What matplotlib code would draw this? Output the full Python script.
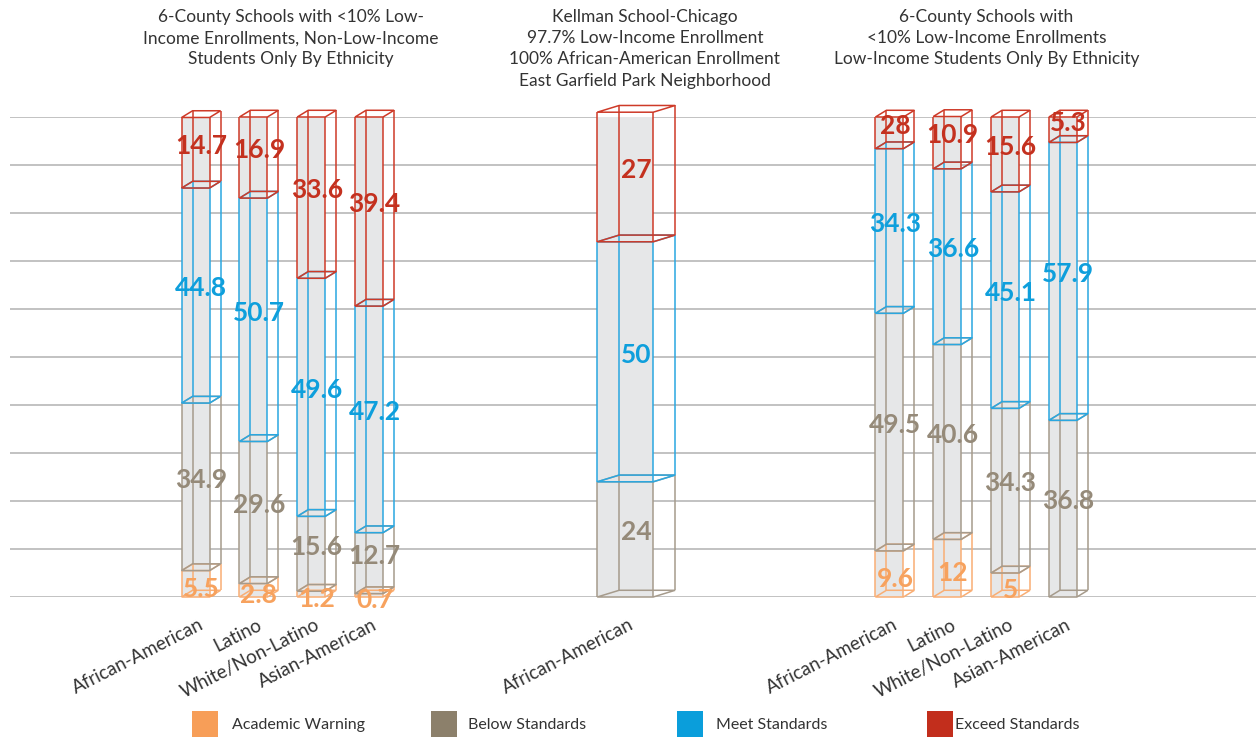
import matplotlib
matplotlib.use("Agg")
import matplotlib.pyplot as plt
from matplotlib.patches import Rectangle, Polygon

plt.rcParams['font.family'] = ['Lato', 'DejaVu Sans']

# categories and segment values (bottom to top)
levels = ['Academic Warning', 'Below Standards', 'Meet Standards', 'Exceed Standards']
ethnic = ['African-American', 'Latino', 'White/Non-Latino', 'Asian-American']

non_low_income = {
    'African-American': [5.5, 34.9, 44.8, 14.7],
    'Latino': [2.8, 29.6, 50.7, 16.9],
    'White/Non-Latino': [1.2, 15.6, 49.6, 33.6],
    'Asian-American': [0.7, 12.7, 47.2, 39.4],
}
kellman = [0, 24, 50, 27]
low_income = {
    'African-American': [9.6, 49.5, 34.3, 6.6],
    'Latino': [12, 40.6, 36.6, 10.9],
    'White/Non-Latino': [5, 34.3, 45.1, 15.6],
    'Asian-American': [0, 36.8, 57.9, 5.3],
}
# printed labels (the top African-American low-income label reads "28")
low_income_labels = {
    'African-American': ['9.6', '49.5', '34.3', '28'],
}

titles = [
    "6-County Schools with <10% Low-\nIncome Enrollments, Non-Low-Income\nStudents Only By Ethnicity",
    "Kellman School-Chicago\n97.7% Low-Income Enrollment\n100% African-American Enrollment\nEast Garfield Park Neighborhood",
    "6-County Schools with\n<10% Low-Income Enrollments\nLow-Income Students Only By Ethnicity",
]

text_colors = ['#F7A25E', '#958A79', '#0E9FDC', '#C4311F']
edge_colors = ['#F9AE74', '#A69B8C', '#2AA7E0', '#CE3A28']
legend_colors = ['#F79E58', '#8C806B', '#0A9EDB', '#C22E1C']
label_shift = [-1.0, 1.5, 1.5, 1.5]
face = '#E6E7E8'

W, H = 1256, 737
fig = plt.figure(figsize=(W / 100, H / 100), dpi=100)
ax = fig.add_axes([10 / W, 140 / H, 1246 / W, 480 / H])
ax.set_xlim(-3.21, 18.34)
ax.set_ylim(0, 100)
ax.axis('off')

for g in range(0, 101, 10):
    ax.axhline(g, color='#C2C2C2', lw=1.4, zorder=0)

DY = 1.4  # vertical depth offset in value units


def draw_box(x, y0, y1, w, dx, ec):
    xl, xr = x - w / 2, x + w / 2
    ax.add_patch(Rectangle((xl, y0), w, y1 - y0, facecolor=face, edgecolor='none', zorder=2))
    kw = dict(color=ec, lw=1.1, zorder=3, clip_on=False, solid_capstyle='butt')
    for xx in (xl, xr):
        ax.plot([xx, xx], [y0, y1], **kw)
    for xx in (xl + dx, xr + dx):
        ax.plot([xx, xx], [y0 + DY, y1 + DY], **kw)
    for yy in (y0, y1):
        ax.add_patch(Polygon([(xl, yy), (xl + dx, yy + DY), (xr + dx, yy + DY), (xr, yy)],
                             closed=True, fill=False, edgecolor=ec, lw=1.1, zorder=3, clip_on=False))


def draw_bar(x, vals, w, dx, labels=None):
    bottom = 0
    for i, v in enumerate(vals):
        if v <= 0:
            continue
        draw_box(x, bottom, bottom + v, w, dx, edge_colors[i])
        bottom += v
    bottom = 0
    for i, v in enumerate(vals):
        if v <= 0:
            continue
        txt = labels[i] if labels else ('%g' % v)
        ax.text(x + dx / 2, bottom + v / 2 + label_shift[i], txt, ha='center', va='center',
                fontsize=19, fontweight='bold', color=text_colors[i], zorder=5, clip_on=False)
        bottom += v


pos1 = [0, 1, 2, 3]
pos_k = 7.43
pos3 = [12, 13, 14, 15]
bw, bdx = 0.484, 0.19

for p, name in zip(pos1, ethnic):
    draw_bar(p, non_low_income[name], bw, bdx)
draw_bar(pos_k, kellman, 2 * bw, 2 * bdx)
for p, name in zip(pos3, ethnic):
    draw_bar(p, low_income[name], bw, bdx, low_income_labels.get(name))

# category labels under the bars
cats = list(zip(pos1, ethnic)) + [(pos_k, 'African-American')] + list(zip(pos3, ethnic))
for p, name in cats:
    ax.text(p + 0.12, -5.5, name, rotation=27, rotation_mode='anchor', ha='right', va='center',
            fontsize=13.5, color='#333333', clip_on=False)

# group titles
for xc, t in zip([1.65, 7.77, 13.68], titles):
    ax.text(xc, 100 + (117 - 9) / 4.8, t, ha='center', va='top', fontsize=12.5, color='#333333',
            linespacing=1.4, clip_on=False)

# legend
sq = 26
for (sx, tx), lab, col in zip([(192, 232), (431, 468), (677, 716), (927, 955)], levels, legend_colors):
    fig.patches.append(Rectangle((sx / W, (H - 737) / H), sq / W, sq / H, transform=fig.transFigure,
                                 facecolor=col, edgecolor='none'))
    fig.text(tx / W, (H - 725) / H, lab, ha='left', va='center', fontsize=11.5, color='#333333')

fig.savefig('out.png', dpi=100)
